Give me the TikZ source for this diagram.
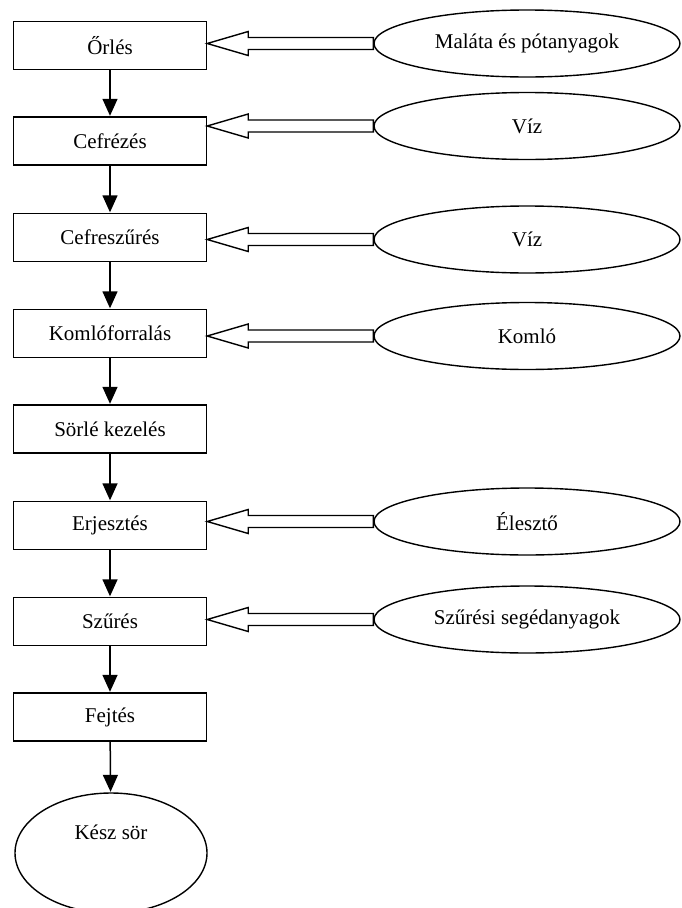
\documentclass[tikz,border=0pt]{standalone}
\usepackage{fontspec}
\setmainfont{Liberation Serif}
\usetikzlibrary{shapes.geometric,arrows.meta,calc}
\tikzset{
  stepbox/.style={draw, line width=1.4pt, minimum width=193pt, minimum height=48pt, inner sep=0pt, font=\fontsize{21pt}{24pt}\selectfont},
  inbox/.style={draw, ellipse, line width=1.4pt, minimum width=306pt, minimum height=67pt, inner sep=0pt, font=\fontsize{21pt}{24pt}\selectfont},
  flow/.style={line width=1.5pt, -{Triangle[width=15pt,length=17pt]}, shorten >=0.5pt},
  blk/.style={draw, line width=1.4pt, fill=white, line join=miter}
}
\newcommand\blockarrow[2]{%
  \draw[blk] (#2.east |- #1.west) -- ++(41pt,12pt) -- ++(0pt,-6pt)
    -- ([yshift=6pt]#1.west) -- ([yshift=-6pt]#1.west)
    -- ($(#2.east |- #1.west)+(41pt,-6pt)$) -- ++(0pt,-6pt) -- cycle;}
\begin{document}
\begin{tikzpicture}[x=1pt,y=-1pt]
\clip (0,0) rectangle (682,908);
\fill[white] (0,0) rectangle (682,908);
% process steps
\node[stepbox] (s1) at (110,45.5) {Őrlés};
\node[stepbox] (s2) at (110,141) {Cefrézés};
\node[stepbox] (s3) at (110,237.5) {Cefreszűrés};
\node[stepbox] (s4) at (110,333.5) {Komlóforralás};
\node[stepbox] (s5) at (110,429) {Sörlé kezelés};
\node[stepbox] (s6) at (110,525.5) {Erjesztés};
\node[stepbox] (s7) at (110,621.5) {Szűrés};
\node[stepbox] (s8) at (110,717) {Fejtés};
\node[draw, ellipse, line width=1.4pt, minimum width=192pt, minimum height=120pt, inner sep=0pt] (s9) at (111,853) {};
\node[font=\fontsize{21pt}{24pt}\selectfont] (s9t) at (111,832) {Kész sör};
% inputs
\node[inbox] (e1) at (527,43.5) {Maláta és pótanyagok};
\node[inbox] (e2) at (527,126) {Víz};
\node[inbox] (e3) at (527,239.5) {Víz};
\node[inbox] (e4) at (527,336) {Komló};
\node[inbox] (e6) at (527,521.5) {Élesztő};
\node[inbox] (e7) at (527,619.5) {Szűrési segédanyagok};
% flow arrows
\draw[flow] (s1) -- (s2);
\draw[flow] (s2) -- (s3);
\draw[flow] (s3) -- (s4);
\draw[flow] (s4) -- (s5);
\draw[flow] (s5) -- (s6);
\draw[flow] (s6) -- (s7);
\draw[flow] (s7) -- (s8);
\draw[flow] (s8) -- (s9);
% block arrows
\blockarrow{e1}{s1}
\blockarrow{e2}{s2}
\blockarrow{e3}{s3}
\blockarrow{e4}{s4}
\blockarrow{e6}{s6}
\blockarrow{e7}{s7}
\end{tikzpicture}
\end{document}
